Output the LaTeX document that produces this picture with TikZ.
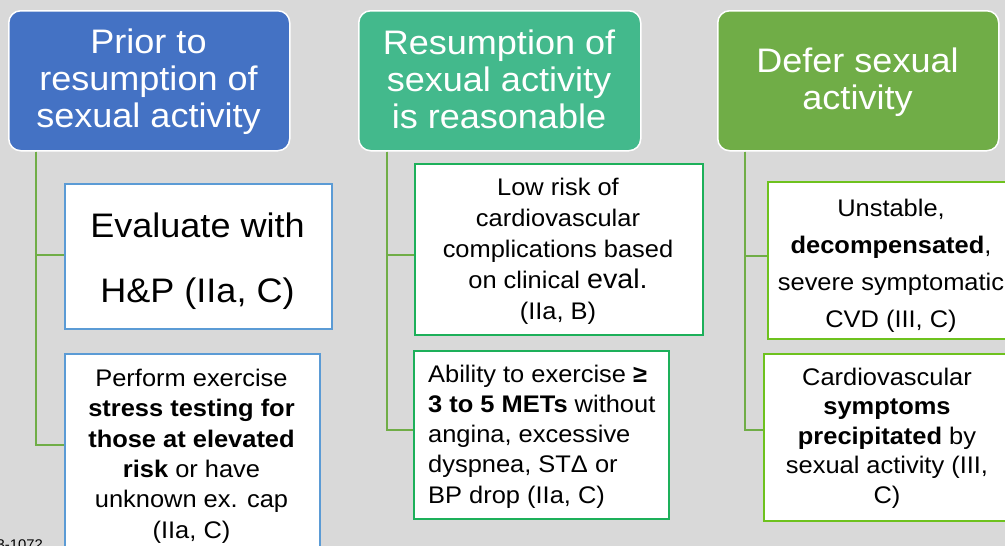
\documentclass[tikz,border=0pt]{standalone}
\usepackage{fontspec}
\setmainfont{Liberation Sans}[FakeStretch=1.06]

\definecolor{pagebg}{HTML}{D9D9D9}
\definecolor{headblue}{HTML}{4472C4}
\definecolor{headteal}{HTML}{43B98C}
\definecolor{headgreen}{HTML}{70AD47}
\definecolor{linkgreen}{HTML}{70AD47}
\definecolor{edgeblue}{HTML}{5B9BD5}
\definecolor{edgegreen}{HTML}{1DB05A}
\definecolor{edgelime}{HTML}{6EC21E}

% strut fixing the height of a first line to 1em
\newcommand\firstline{\rule{0pt}{1em}}
\newcommand\fsz[2]{\fontsize{#1}{#2}\selectfont}

\begin{document}
\begin{tikzpicture}[x=1pt,y=-1pt,
  headbox/.style={draw=white, line width=1.5pt, rounded corners=12pt,
    inner sep=0pt, anchor=north west},
  headtext/.style={text=white, align=center, anchor=north, inner sep=0pt,
    font=\fsz{34}{37}},
  itembox/.style={draw=#1, fill=white, line width=1.6pt, inner sep=0pt,
    anchor=north west},
  itemtext/.style={text=black, align=center, anchor=north, inner sep=0pt},
  conn/.style={draw=linkgreen, line width=1.75pt}
]
\useasboundingbox (0,0) rectangle (1005,546);
\clip (0,0) rectangle (1005,546);
\fill[pagebg] (0,0) rectangle (1005,546);

% column headers
\node[headbox, fill=headblue,  minimum width=281pt, minimum height=140pt] (h1) at (8,10) {};
\node[headbox, fill=headteal,  minimum width=282pt, minimum height=140pt] (h2) at (358,10) {};
\node[headbox, fill=headgreen, minimum width=281pt, minimum height=140pt] (h3) at (717,10) {};

\node[headtext] (h1t) at (148.5,19) {\firstline Prior to\\resumption of\\sexual activity};
\node[headtext] (h2t) at (499,20) {\firstline Resumption of\\sexual activity\\is reasonable};
\node[headtext] (h3t) at (857.5,38) {\firstline Defer sexual\\activity};

% column 1 items
\node[itembox=edgeblue, minimum width=267pt, minimum height=145pt] (b11) at (64,183) {};
\node[itembox=edgeblue, minimum width=255pt, minimum height=250pt] (b12) at (64,353) {};
\node[itemtext, font=\fsz{34}{65}] (b11t) at (197.5,203) {\firstline Evaluate with\\H\&P (IIa, C)};
\node[itemtext, font=\fsz{24}{30.4}] (b12t) at (191.5,362)
  {\firstline Perform exercise\\\textbf{stress testing for}\\\textbf{those at elevated}\\\textbf{risk} or have\\unknown ex. cap\\(IIa, C)};

% column 2 items
\node[itembox=edgegreen, minimum width=288pt, minimum height=171pt] (b21) at (414,163) {};
\node[itembox=edgegreen, minimum width=255pt, minimum height=168pt] (b22) at (413,350) {};
\node[itemtext, font=\fsz{24}{31}] (b21t) at (558,171)
  {\firstline Low risk of\\cardiovascular\\complications based\\on clinical {\fontsize{27}{31}\selectfont eval.}\\(IIa, B)};
\node[itemtext, align=left, anchor=north west, font=\fsz{24}{30.25}] (b22t) at (428,358)
  {\firstline Ability to exercise \textbf{≥}\\\textbf{3 to 5 METs} without\\angina, excessive\\dyspnea, STΔ or\\BP drop (IIa, C)};

% column 3 items
\node[itembox=edgelime, minimum width=243pt, minimum height=157pt] (b31) at (767,181) {};
\node[itembox=edgelime, minimum width=249pt, minimum height=167pt] (b32) at (763,353) {};
\node[itemtext, font=\fsz{24}{37}] (b31t) at (891,192)
  {\firstline Unstable,\\\textbf{decompensated},\\severe symptomatic\\CVD (III, C)};
\node[itemtext, font=\fsz{24}{29.5}] (b32t) at (887,361)
  {\firstline Cardiovascular\\\textbf{symptoms}\\\textbf{precipitated} by\\sexual activity (III,\\C)};

% spines from each header down to its items
\coordinate (s1) at ([xshift=28pt]h1.south west);
\coordinate (s2) at ([xshift=29pt]h2.south west);
\coordinate (s3) at ([xshift=28pt]h3.south west);
\draw[conn] (s1) |- ([yshift=-72pt]b11.north west);
\draw[conn] (s1) |- ([yshift=-92pt]b12.north west);
\draw[conn] (s2) |- ([yshift=-92pt]b21.north west);
\draw[conn] (s2) |- ([yshift=-80pt]b22.north west);
\draw[conn] (s3) |- ([yshift=-75pt]b31.north west);
\draw[conn] (s3) |- ([yshift=-77pt]b32.north west);

% source reference, running off the lower edge
\node[font=\fsz{14}{16}, anchor=base east, inner sep=0pt] (src) at (43,549) {3-1072};
\end{tikzpicture}
\end{document}
